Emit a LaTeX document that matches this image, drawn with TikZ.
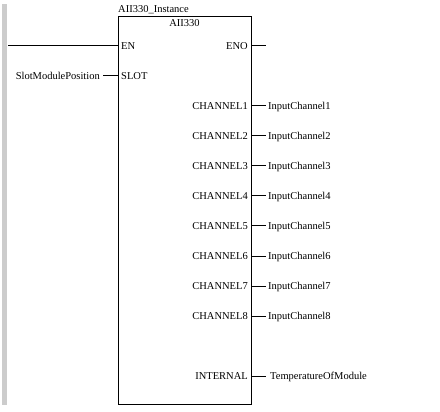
\documentclass[tikz,border=0pt]{standalone}
\usepackage{fontspec}
\setmainfont{Liberation Serif}
\definecolor{railgray}{RGB}{204,204,204}
\tikzset{
  lbl/.style={inner sep=0pt, font=\fontsize{10.5}{12}\selectfont},
  wire/.style={line width=1pt},
  fbbox/.style={draw, line width=1pt, inner sep=0pt}
}
\begin{document}
\begin{tikzpicture}[x=1pt,y=-1pt]
\useasboundingbox (0,0) rectangle (440,412);
% rail
\fill[railgray] (2,4) rectangle (7,405);
% block
\node[fbbox, minimum width=133pt, minimum height=388pt, anchor=north west] (blk) at (118,16) {};
\node[lbl, anchor=base west] (inst) at (118,13) {AII330\_Instance};
\node[lbl, anchor=base] (type) at (184.5,27) {AII330};
% inputs
\coordinate (enL) at (8,46);
\coordinate (enR) at (118,46);
\node[lbl, anchor=base west] (en) at (121,49.7) {EN};
\coordinate (slotR) at (118,76);
\node[lbl, anchor=base west] (slot) at (121,79.7) {SLOT};
\node[lbl, anchor=base east] (slotvar) at (100,79.7) {SlotModulePosition};
\coordinate (slotL) at (103,76);
\draw[wire] (enL) -- (enR);
\draw[wire] (slotL) -- (slotR);
% ENO
\node[lbl, anchor=base east] (eno) at (248,49.7) {ENO};
\coordinate (enoL) at (251,46);
\coordinate (enoR) at (266,46);
\draw[wire] (enoL) -- (enoR);
% channels
\foreach \i in {1,...,8}{
  \pgfmathsetmacro{\yy}{76+30*\i}
  \node[lbl, anchor=base east] (ch\i) at (248,\yy+3.7) {CHANNEL\i};
  \coordinate (chL\i) at (251,\yy);
  \coordinate (chR\i) at (266,\yy);
  \draw[wire] (chL\i) -- (chR\i);
  \node[lbl, anchor=base west] (in\i) at (268,\yy+3.7) {InputChannel\i};
}
% internal
\node[lbl, anchor=base east] (intl) at (248,379.7) {INTERNAL};
\coordinate (intL) at (251,376);
\coordinate (intR) at (266,376);
\draw[wire] (intL) -- (intR);
\node[lbl, anchor=base west] (temp) at (270,379.7) {TemperatureOfModule};
\end{tikzpicture}
\end{document}
